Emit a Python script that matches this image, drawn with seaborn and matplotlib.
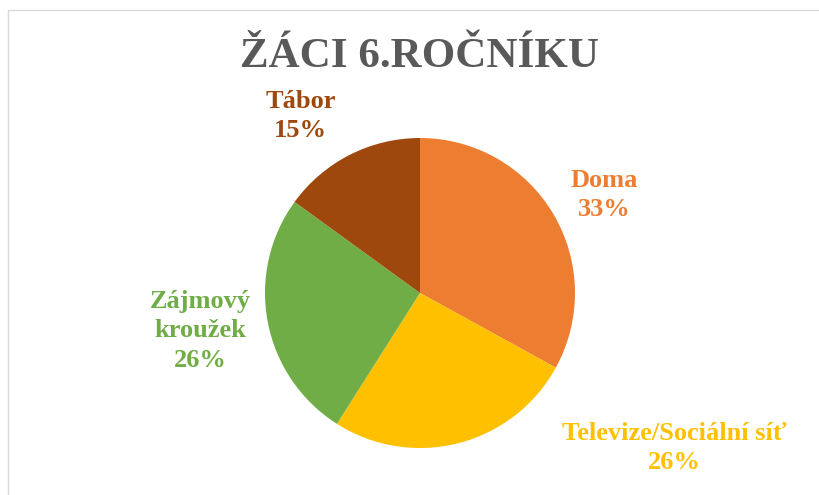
import matplotlib
matplotlib.use("Agg")
import matplotlib.pyplot as plt
import seaborn as sns
from matplotlib.patches import Rectangle

categories = ["Doma", "Televize/Sociální síť", "Zájmový\nkroužek", "Tábor"]
values = [33, 26, 26, 15]
title = "ŽÁCI 6.ROČNÍKU"

sns.set_theme(style="white")
plt.rcParams["font.family"] = ["Liberation Serif", "DejaVu Serif"]

colors = sns.color_palette(["#ED7D31", "#FFC000", "#70AD47", "#9E480E"])

W, H = 819, 495
fig = plt.figure(figsize=(W / 100, H / 100), dpi=100)
fig.patch.set_facecolor("white")

# border frame
fig.add_artist(Rectangle((8 / W, -0.05), 1.1, 1 - 10 / H + 0.05,
                         transform=fig.transFigure, fill=False,
                         edgecolor="#D9D9D9", linewidth=1.0))

cx, cy, r = 420, 293, 155
ax = fig.add_axes([(cx - r) / W, (H - cy - r) / H, 2 * r / W, 2 * r / H])
ax.pie(values, colors=colors, startangle=90, counterclock=False,
       radius=1.0, wedgeprops=dict(linewidth=0))
ax.set_xlim(-1, 1)
ax.set_ylim(-1, 1)
ax.set_aspect("equal")
ax.axis("off")

label_pos = [(1.19, 0.63), (1.64, -1.0), (-1.42, -0.245), (-0.77, 1.14)]
for cat, val, col, (lx, ly) in zip(categories, values, colors, label_pos):
    ax.text(lx, ly, f"{cat}\n{val}%", color=col, fontsize=19,
            fontweight="bold", ha="center", va="center",
            linespacing=1.35, clip_on=False)

fig.text(cx / W, 1 - 57 / H, title, ha="center", va="center",
         fontsize=31, fontweight="bold", color="#595959")

fig.savefig("out.png", dpi=100, facecolor="white")
